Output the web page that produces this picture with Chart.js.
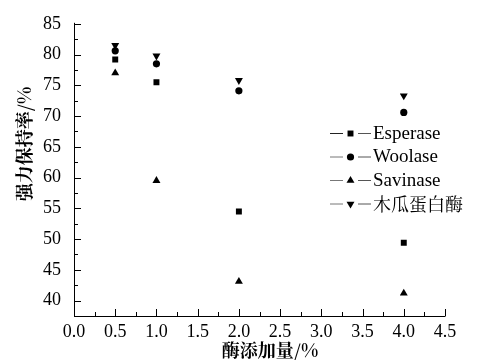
<!DOCTYPE html>
<html>
<head>
<meta charset="utf-8">
<script src="https://cdn.jsdelivr.net/npm/chart.js@4/dist/chart.umd.min.js"></script>
<style>
  html, body { margin: 0; padding: 0; background: #fff; }
  #wrap { position: relative; width: 479px; height: 360px; }
</style>
</head>
<body>
<div id="wrap"><canvas id="c" width="479" height="360"></canvas></div>
<script>
// enzyme dose (%) vs strength retention (%)
const doses = [0.5, 1.0, 2.0, 4.0];
const esperase = [79.2, 75.5, 54.5, 49.4];
const woolase = [80.6, 78.5, 74.1, 70.6];
const savinase = [77.0, 59.5, 43.1, 41.2];
const papain = [81.5, 79.8, 75.8, 73.3];

const seriesNames = ["Esperase", "Woolase", "Savinase", "木瓜蛋白酶"];
const xTicks = [0, 0.5, 1, 1.5, 2, 2.5, 3, 3.5, 4, 4.5];
const yTicks = [40, 45, 50, 55, 60, 65, 70, 75, 80, 85];

const SERIF = "Liberation Serif";
const CJK = "Noto Serif CJK SC";

function pts(ys) {
    return doses.map((x, i) => ({ x, y: ys[i] }));
}

function ds(label, ys, style, r, rot) {
    return {
        label,
        data: pts(ys),
        showLine: false,
        pointStyle: style,
        pointRadius: r,
        pointRotation: rot,
        backgroundColor: "#000",
        borderColor: "#000",
        borderWidth: 0
    };
}

const datasets = [
    ds(seriesNames[0], esperase, "rect", 4.2, 0),
    ds(seriesNames[1], woolase, "circle", 3.6, 0),
    ds(seriesNames[2], savinase, "triangle", 4.6, 0),
    ds(seriesNames[3], papain, "triangle", 4.6, 180)
];

// inward ticks, axis titles and the "—■—" legend
const decor = {
    id: "decor",
    afterDraw(chart) {
        const { ctx, chartArea: a, scales } = chart;
        const xs = scales.x, ys = scales.y;
        ctx.save();
        ctx.strokeStyle = "#000";
        ctx.lineWidth = 1;
        ctx.beginPath();
        ctx.moveTo(a.left + 0.5, a.top - 1);
        ctx.lineTo(a.left + 0.5, a.bottom + 0.5);
        ctx.lineTo(a.right + 0.5, a.bottom + 0.5);
        ctx.stroke();

        ctx.beginPath();
        for (let v = 0; v <= 4.5001; v += 0.25) {
            const px = Math.round(xs.getPixelForValue(v)) + 0.5;
            const major = Math.abs(v * 2 - Math.round(v * 2)) < 1e-6;
            ctx.moveTo(px, a.bottom);
            ctx.lineTo(px, a.bottom - (major ? 7 : 4));
        }
        for (let v = 37.5; v <= 85.001; v += 2.5) {
            const py = Math.round(ys.getPixelForValue(v)) + 0.5;
            const major = Math.abs(v / 5 - Math.round(v / 5)) < 1e-6;
            ctx.moveTo(a.left, py);
            ctx.lineTo(a.left + (major ? 7 : 4), py);
        }
        ctx.stroke();

        // axis titles
        ctx.fillStyle = "#000";
        ctx.font = "bold 18px " + CJK;
        ctx.textAlign = "center";
        ctx.textBaseline = "middle";
        ctx.fillText("酶添加量/%", 270, 350);
        ctx.save();
        ctx.translate(24, 144);
        ctx.rotate(-Math.PI / 2);
        ctx.fillText("强力保持率/%", 0, 0);
        ctx.restore();

        // legend
        const lx = 330, ly0 = 133, gap = 23.5;
        chart.data.datasets.forEach((d, i) => {
            const y = ly0 + i * gap;
            ctx.strokeStyle = i === 0 ? "#222" : "#777";
            ctx.beginPath();
            ctx.moveTo(lx, y + 0.5); ctx.lineTo(lx + 13, y + 0.5);
            ctx.stroke();
            ctx.strokeStyle = "#555";
            ctx.beginPath();
            ctx.moveTo(lx + 28, y + 0.5); ctx.lineTo(lx + 41, y + 0.5);
            ctx.stroke();
            ctx.fillStyle = "#000";
            Chart.helpers.drawPoint(ctx, {
                pointStyle: d.pointStyle, radius: d.pointRadius,
                rotation: d.pointRotation, borderWidth: 0
            }, lx + 20.5, y + 0.5);
            ctx.textAlign = "left";
            ctx.font = (i === 3 ? "18px " + CJK : "19px " + SERIF);
            ctx.fillText(d.label, lx + 43, y + 1);
        });
        ctx.restore();
    }
};

new Chart(document.getElementById("c"), {
    type: "scatter",
    data: { datasets },
    plugins: [decor],
    options: {
        responsive: false,
        animation: false,
        layout: { padding: { top: 18, right: 34, left: 0, bottom: 0 } },
        plugins: { legend: { display: false }, tooltip: { enabled: false } },
        scales: {
            x: {
                type: "linear",
                min: 0, max: 4.5,
                afterBuildTicks: s => { s.ticks = xTicks.map(v => ({ value: v })); },
                afterFit: s => { s.height = 44; },
                grid: { display: false, drawTicks: false },
                border: { display: false },
                ticks: {
                    padding: 5,
                    color: "#000",
                    font: { family: SERIF, size: 18 },
                    callback: v => Number(v).toFixed(1)
                }
            },
            y: {
                type: "linear",
                min: 37.5, max: 85,
                afterBuildTicks: s => { s.ticks = yTicks.map(v => ({ value: v })); },
                afterFit: s => { s.width = 74; },
                grid: { display: false, drawTicks: false },
                border: { display: false },
                ticks: {
                    padding: 13,
                    color: "#000",
                    font: { family: SERIF, size: 18 }
                }
            }
        }
    }
});
</script>
</body>
</html>
